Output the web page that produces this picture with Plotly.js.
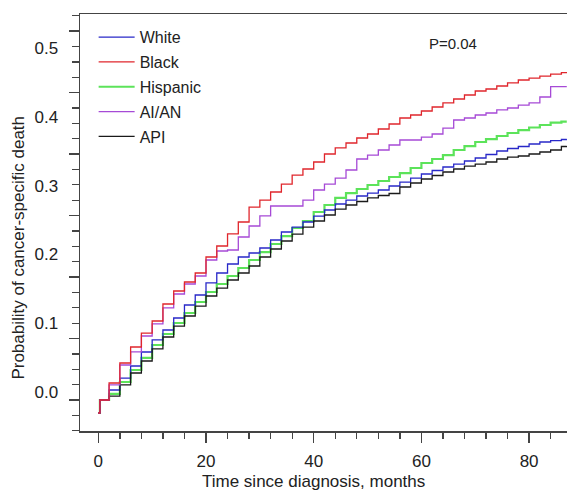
<!DOCTYPE html>
<html>
<head>
<meta charset="utf-8">
<script src="https://cdn.plot.ly/plotly-3.0.1.min.js"></script>
<style>html,body{margin:0;padding:0;background:#fff;}#chart{width:567px;height:492px;}</style>
</head>
<body>
<div id="chart"></div>
<script>
// Time since diagnosis (months)
var months = [0, 0.3, 2, 4, 6, 8, 10, 12, 14, 16, 18, 20, 22, 24, 26, 28, 30, 32, 34, 36, 38, 40,
  42, 44, 46, 48, 50, 52, 54, 56, 58, 60, 62, 64, 66, 68, 70, 72, 74, 76, 78, 80, 82, 84, 86, 87];

var white = [-0.031, -0.0121, 0.0025, 0.0199, 0.0374, 0.0578, 0.0753, 0.0898, 0.1073, 0.1262, 0.1408,
  0.1583, 0.1728, 0.1859, 0.1961, 0.2019, 0.2092, 0.2208, 0.2325, 0.2397, 0.2470, 0.2557,
  0.2645, 0.2732, 0.2790, 0.2849, 0.2892, 0.2936, 0.2994, 0.3052, 0.3110, 0.3169, 0.3220,
  0.3271, 0.3314, 0.3358, 0.3402, 0.3453, 0.3504, 0.3540, 0.3569, 0.3606, 0.3635, 0.3656, 0.3671, 0.3674];

var black = [-0.031, -0.0121, 0.0127, 0.0418, 0.0651, 0.0854, 0.1029, 0.1277, 0.1466, 0.1597, 0.1728,
  0.1961, 0.2121, 0.2296, 0.2470, 0.2688, 0.2790, 0.2907, 0.3023, 0.3154, 0.3242, 0.3344,
  0.3460, 0.3548, 0.3620, 0.3693, 0.3751, 0.3824, 0.3897, 0.3984, 0.4028, 0.4086, 0.4144,
  0.4203, 0.4261, 0.4319, 0.4377, 0.4406, 0.4450, 0.4494, 0.4537, 0.4566, 0.4595, 0.4624, 0.4646, 0.4652];

var hispanic = [-0.031, -0.0121, -0.0033, 0.0141, 0.0316, 0.0491, 0.0680, 0.0840, 0.1000, 0.1146, 0.1306,
  0.1451, 0.1568, 0.1684, 0.1801, 0.1917, 0.2033, 0.2150, 0.2266, 0.2383, 0.2485, 0.2616,
  0.2718, 0.2820, 0.2892, 0.2951, 0.3009, 0.3067, 0.3125, 0.3183, 0.3256, 0.3329, 0.3387,
  0.3445, 0.3518, 0.3576, 0.3635, 0.3678, 0.3722, 0.3766, 0.3809, 0.3846, 0.3882, 0.3918, 0.3930, 0.3930];

var aian = [-0.031, -0.0121, 0.0098, 0.0389, 0.0579, 0.0811, 0.0986, 0.1219, 0.1422, 0.1568, 0.1684,
  0.1917, 0.2048, 0.2063, 0.2252, 0.2412, 0.2558, 0.2703, 0.2703, 0.2703, 0.2790, 0.2936,
  0.3023, 0.3110, 0.3227, 0.3387, 0.3445, 0.3518, 0.3591, 0.3664, 0.3664, 0.3707, 0.3751,
  0.3838, 0.3955, 0.3984, 0.4028, 0.4057, 0.4101, 0.4130, 0.4173, 0.4203, 0.4290, 0.4440, 0.4440, 0.4440];

var api = [-0.031, -0.0121, -0.0063, 0.0098, 0.0272, 0.0447, 0.0622, 0.0796, 0.0956, 0.1102, 0.1247,
  0.1393, 0.1509, 0.1626, 0.1728, 0.1830, 0.1961, 0.2077, 0.2194, 0.2295, 0.2397, 0.2485,
  0.2572, 0.2659, 0.2718, 0.2769, 0.2820, 0.2856, 0.2885, 0.2980, 0.3038, 0.3096, 0.3147,
  0.3198, 0.3242, 0.3285, 0.3314, 0.3344, 0.3387, 0.3416, 0.3431, 0.3460, 0.3489, 0.3518, 0.3569, 0.3576];

var yTickVals = [0, 0.1, 0.2, 0.3, 0.4, 0.5];
var yTickText = ['0.0', '0.1', '0.2', '0.3', '0.4', '0.5'];
var xTickVals = [0, 20, 40, 60, 80];
var pText = 'P=0.04';

var FONT = '"Liberation Sans", Arial, Helvetica, sans-serif';

function tr(name, y, color, width, rank) {
  return {
    x: months, y: y, name: name, type: 'scatter', mode: 'lines',
    line: {color: color, width: width, shape: 'hv'},
    legendrank: rank, legendgroup: name
  };
}

var data = [
  tr('Hispanic', hispanic, '#5ce35a', 2.2, 3),
  tr('White', white, '#2828c8', 1.3, 1),
  tr('API', api, '#1a1a1a', 1.3, 5),
  tr('AI/AN', aian, '#a64ad6', 1.3, 4),
  tr('Black', black, '#e0262c', 1.3, 2),
  // invisible helper trace for the tick-mark axis on the left
  {x: [0], y: [0], yaxis: 'y2', mode: 'markers', marker: {opacity: 0}, showlegend: false, hoverinfo: 'skip'}
];

var yr = [-0.0572, 0.5498];

var layout = {
  width: 567, height: 492,
  margin: {l: 80, r: 0, t: 14, b: 61},
  paper_bgcolor: '#fff', plot_bgcolor: '#fff',
  font: {family: FONT, color: '#222', size: 17},
  showlegend: true,
  legend: {
    x: 0.028, y: 0.985, xanchor: 'left', yanchor: 'top',
    font: {family: FONT, size: 16, color: '#222'},
    bgcolor: 'rgba(0,0,0,0)', borderwidth: 0,
    traceorder: 'grouped', tracegroupgap: 1, itemwidth: 36
  },
  xaxis: {
    range: [-3.4, 87.04], autorange: false,
    tickmode: 'array', tickvals: xTickVals,
    ticks: 'outside', ticklen: 10, tickwidth: 1.3, tickcolor: '#444',
    minor: {dtick: 4, tick0: 0, ticks: 'outside', ticklen: 6, tickwidth: 1.3, tickcolor: '#444', showgrid: false},
    showline: true, linecolor: '#444', linewidth: 1.5, mirror: true,
    showgrid: false, zeroline: false,
    tickfont: {family: FONT, size: 17, color: '#222'},
    ticklabelstandoff: 4
  },
  yaxis: {
    range: yr, autorange: false,
    tickmode: 'array', tickvals: yTickVals, ticktext: yTickText,
    ticks: '', showline: true, linecolor: '#444', linewidth: 1.5,
    showgrid: false, zeroline: false,
    tickfont: {family: FONT, size: 17, color: '#222'},
    ticklabelstandoff: 17
  },
  yaxis2: {
    overlaying: 'y', side: 'left', range: yr, autorange: false,
    tickmode: 'linear', tick0: -0.0121, dtick: 0.0895,
    ticks: 'outside', ticklen: 10, tickwidth: 1.3, tickcolor: '#444',
    minor: {tick0: -0.0121, dtick: 0.022375, ticks: 'outside', ticklen: 7, tickwidth: 1.3, tickcolor: '#444', showgrid: false},
    showticklabels: false, showline: false, showgrid: false, zeroline: false
  },
  annotations: [
    {text: pText, xref: 'paper', yref: 'paper', x: 0.765, y: 0.930, xanchor: 'center', yanchor: 'middle',
     showarrow: false, font: {family: FONT, size: 15, color: '#222'}},
    {text: 'Time since diagnosis, months', xref: 'paper', yref: 'paper', x: 0.4795, y: -0.12,
     xanchor: 'center', yanchor: 'middle', showarrow: false, font: {family: FONT, size: 17, color: '#222'}},
    {text: 'Probability of cancer-specific death', xref: 'paper', yref: 'paper', x: -0.1263, y: 0.441,
     xanchor: 'center', yanchor: 'middle', textangle: -90, showarrow: false,
     font: {family: FONT, size: 17, color: '#222'}}
  ]
};

Plotly.newPlot('chart', data, layout, {displayModeBar: false, staticPlot: true});
</script>
</body>
</html>
